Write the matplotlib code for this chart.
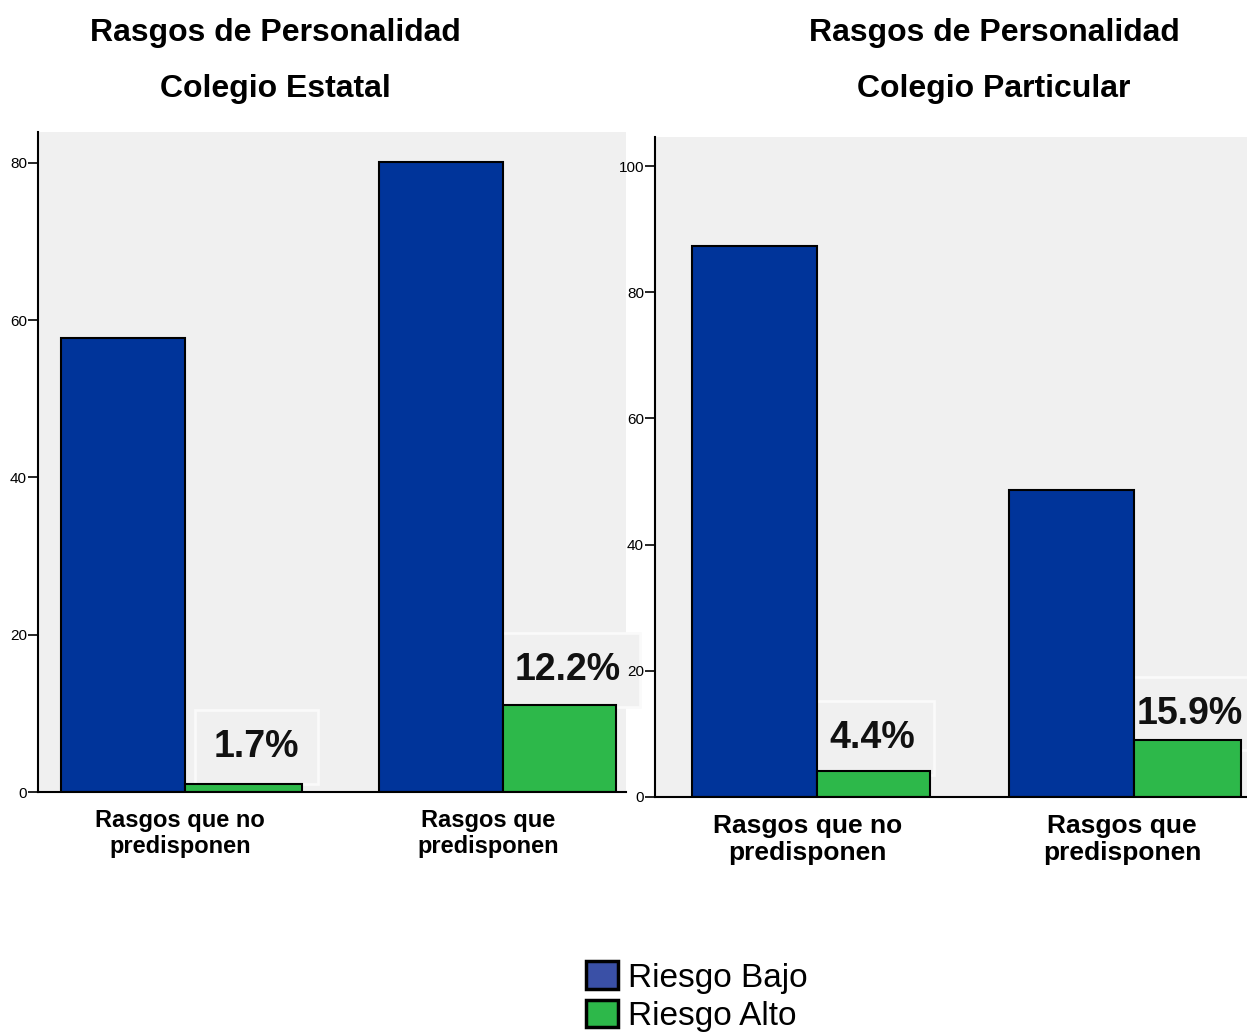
import matplotlib.pyplot as plt
from matplotlib.patches import Patch

plt.rcParams['font.family'] = ['Liberation Sans', 'DejaVu Sans']

categories = ['Rasgos que no\npredisponen', 'Rasgos que\npredisponen']
series = ['Riesgo Bajo', 'Riesgo Alto']

estatal_bajo = [57.7, 80.1]
estatal_alto = [1.0, 11.1]
estatal_labels = ['1.7%', '12.2%']

particular_bajo = [87.3, 48.6]
particular_alto = [4.1, 9.0]
particular_labels = ['4.4%', '15.9%']

col_bajo = '#00349A'
col_alto = '#2DB84A'
col_bajo_legend = '#3A50A6'
bg = '#F0F0F0'

W, H = 1247, 1032
fig = plt.figure(figsize=(W / 100, H / 100), dpi=100)


def px_axes(x0, y0, x1, y1):
    return fig.add_axes([x0 / W, 1 - y1 / H, (x1 - x0) / W, (y1 - y0) / H])


def draw_panel(ax, bajo, alto, labels, w_bajo, w_alto, ymax, xlim, ticks,
               cat_size, label_pos, cat_offset):
    ax.set_facecolor(bg)
    x = list(range(len(categories)))
    ax.bar([i - w_bajo for i in x], bajo, width=w_bajo, align='edge',
           color=col_bajo, edgecolor='black', linewidth=1.5, zorder=3)
    ax.bar(x, alto, width=w_alto, align='edge',
           color=col_alto, edgecolor='black', linewidth=1.5, zorder=3)
    for (tx, ty), s in zip(label_pos, labels):
        ax.text(tx, ty, s, ha='center', va='center', fontsize=27,
                fontweight='bold', color='#111111', clip_on=False, zorder=2,
                bbox=dict(boxstyle='square,pad=0.5', facecolor=bg,
                          edgecolor='#FAFAFA', linewidth=2))
    ax.set_xlim(*xlim)
    ax.set_ylim(0, ymax)
    ax.set_yticks(ticks)
    ax.tick_params(axis='y', labelsize=11, length=7, width=1.2, pad=1)
    ax.set_xticks([i + d for i, d in zip(x, cat_offset)])
    ax.set_xticklabels(categories, fontsize=cat_size, fontweight='bold')
    ax.tick_params(axis='x', length=0, pad=12)
    for side in ['top', 'right']:
        ax.spines[side].set_visible(False)
    ax.spines['left'].set_linewidth(1.5)
    ax.spines['bottom'].set_linewidth(1.5)
    ax.spines['left'].set_zorder(4)
    ax.spines['bottom'].set_zorder(4)


ax1 = px_axes(38, 132, 626, 792)
draw_panel(ax1, estatal_bajo, estatal_alto, estatal_labels,
           0.39, [0.368, 0.355], 83.9, (-0.462, 1.387), [0, 20, 40, 60, 80], 17,
           [(0.226, 5.7), (1.204, 15.5)], [-0.016, -0.045])

ax2 = px_axes(655, 137, 1247, 797)
draw_panel(ax2, particular_bajo, particular_alto, particular_labels,
           0.394, [0.356, 0.338], 104.6, (-0.511, 1.356), [0, 20, 40, 60, 80, 100], 19,
           [(0.173, 9.35), (1.177, 13.2)], [-0.03, -0.038])

fig.text(275 / W, 1 - 33 / H, 'Rasgos de Personalidad', ha='center', va='center',
         fontsize=23, fontweight='bold')
fig.text(275 / W, 1 - 89 / H, 'Colegio Estatal', ha='center', va='center',
         fontsize=23, fontweight='bold')
fig.text(994 / W, 1 - 33 / H, 'Rasgos de Personalidad', ha='center', va='center',
         fontsize=23, fontweight='bold')
fig.text(994 / W, 1 - 89 / H, 'Colegio Particular', ha='center', va='center',
         fontsize=23, fontweight='bold')

handles = [Patch(facecolor=col_bajo_legend, edgecolor='black', linewidth=2.5),
           Patch(facecolor=col_alto, edgecolor='black', linewidth=2.5)]
fig.legend(handles, series, loc='upper left',
           bbox_to_anchor=(563 / W, 1 - 938 / H), frameon=False, fontsize=24,
           handlelength=0.95, handleheight=0.9, labelspacing=0.18,
           handletextpad=0.3, borderpad=0.2)

fig.savefig('out.png', dpi=100, facecolor='white')
